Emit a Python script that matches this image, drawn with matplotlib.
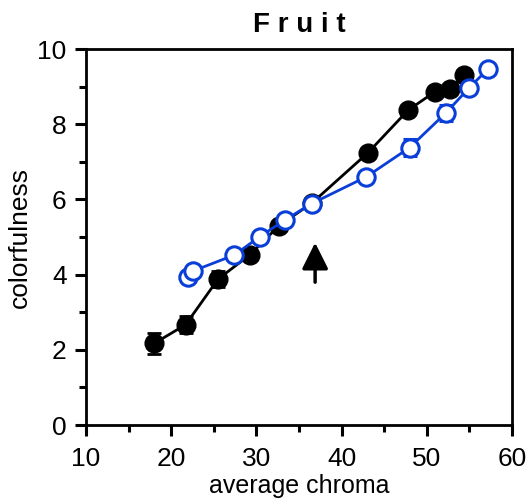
# Fruit: colorfulness vs average chroma

import matplotlib.pyplot as plt
import numpy as np

plt.rcParams['font.family'] = ['Liberation Sans', 'DejaVu Sans']

# black filled series
black_x = [18.0, 21.7, 25.5, 29.25, 32.65, 36.5, 43.1, 47.8, 51.0, 52.7, 54.4]
black_y = [2.17, 2.67, 3.88, 4.53, 5.3, 5.9, 7.24, 8.37, 8.87, 8.95, 9.3]
black_err = [0.27, 0.22, 0.22, 0.15, 0.12, 0.1, 0.12, 0.12, 0.1, 0.1, 0.1]

# blue open series
blue_x = [22.0, 22.6, 27.4, 30.4, 33.4, 36.5, 42.9, 48.0, 52.25, 54.95, 57.2]
blue_y = [3.95, 4.1, 4.52, 5.01, 5.46, 5.89, 6.6, 7.38, 8.3, 8.96, 9.47]
blue_err = [0.1, 0.1, 0.1, 0.1, 0.1, 0.12, 0.12, 0.22, 0.22, 0.1, 0.1]

# arrow marker
arrow_x = 36.9
arrow_tail = 3.8
arrow_head = 4.85

fig = plt.figure(figsize=(5.29, 5.03), dpi=100)
ax = fig.add_axes([0.1626, 0.155, 0.805, 0.7475])

ax.errorbar(black_x, black_y, yerr=black_err, color='black', lw=2, capsize=5,
            capthick=2, marker='o', ms=13.5, mfc='black', mec='black', zorder=2)
ax.errorbar(blue_x, blue_y, yerr=blue_err, color='#0a3ed8', lw=2, capsize=5,
            capthick=2, marker='o', ms=12.5, mfc='white', mec='#0a3ed8', mew=2.2, zorder=3)

ax.annotate('', xy=(arrow_x, arrow_head), xytext=(arrow_x, arrow_tail),
            arrowprops=dict(arrowstyle='-|>,head_length=0.8,head_width=0.4',
                            mutation_scale=20, color='black', lw=2.5,
                            shrinkA=0, shrinkB=0))

ax.set_xlim(10, 60)
ax.set_ylim(0, 10)
ax.set_xticks(np.arange(10, 61, 10))
ax.set_xticks(np.arange(15, 60, 10), minor=True)
ax.set_yticks(np.arange(0, 11, 2))
ax.set_yticks(np.arange(1, 10, 2), minor=True)
ax.tick_params(which='major', direction='out', length=8, width=2.2, labelsize=19)
ax.tick_params(which='minor', direction='out', length=5, width=2.2)
ax.tick_params(axis='x', pad=8)
ax.tick_params(axis='y', pad=6)
for s in ax.spines.values():
    s.set_linewidth(2)

ax.set_xlabel('average chroma', fontsize=18, labelpad=2)
ax.set_ylabel('colorfulness', fontsize=19, labelpad=4)
ax.set_title('F r u i t', fontsize=20, fontweight='bold', pad=12)

plt.savefig('out.png', dpi=100)
